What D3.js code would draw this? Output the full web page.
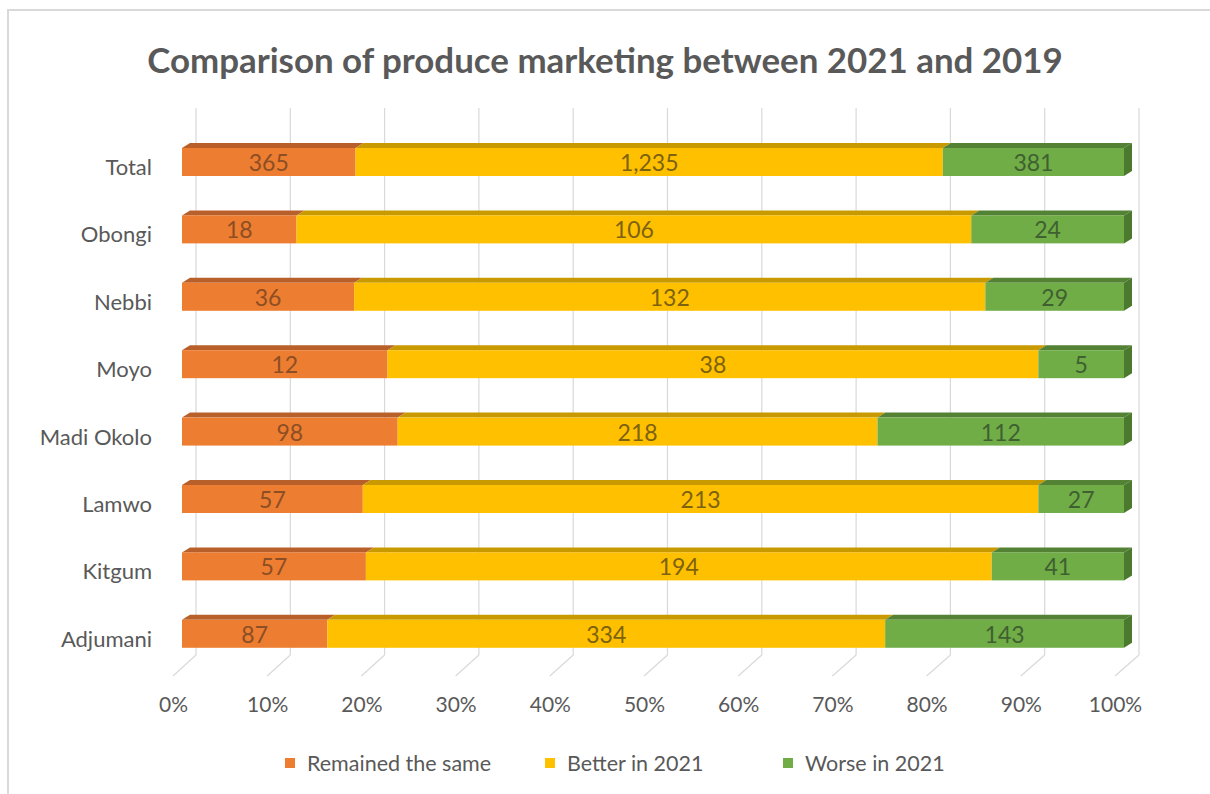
<!DOCTYPE html>
<html>
<head>
<meta charset="utf-8">
<script src="https://cdn.jsdelivr.net/npm/d3@7"></script>
<style>
  html, body { margin: 0; padding: 0; background: #fff; }
  svg { display: block; }
  text { font-family: Lato, "Open Sans", "Liberation Sans", sans-serif; }
</style>
</head>
<body>
<svg id="chart" width="1210" height="794"></svg>
<script>
// Districts, listed top to bottom as drawn
const categories = ["Total", "Obongi", "Nebbi", "Moyo", "Madi Okolo", "Lamwo", "Kitgum", "Adjumani"];
const remainedSame = [365, 18, 36, 12, 98, 57, 57, 87];
const betterIn2021 = [1235, 106, 132, 38, 218, 213, 194, 334];
const worseIn2021 = [381, 24, 29, 5, 112, 27, 41, 143];
const seriesNames = ["Remained the same", "Better in 2021", "Worse in 2021"];
const tickValues = [0, 0.1, 0.2, 0.3, 0.4, 0.5, 0.6, 0.7, 0.8, 0.9, 1.0];

const seriesFront = ["#ED7D31", "#FFC000", "#70AD47"];
const seriesTop = ["#B9602A", "#C99A00", "#548235"];
const seriesSide = ["#A4531E", "#B38A00", "#4B7A2E"];
const seriesLabel = ["#8C4E24", "#7D6210", "#3F6030"];
const textGrey = "#595959";

const svg = d3.select("#chart");

// chart frame
svg.append("rect")
  .attr("x", 8).attr("y", 10).attr("width", 1220).attr("height", 800)
  .attr("fill", "#fff").attr("stroke", "#d9d9d9").attr("stroke-width", 2);

// title, fitted to its line width
svg.append("text")
  .attr("x", 605).attr("y", 73)
  .attr("text-anchor", "middle")
  .attr("font-weight", "bold")
  .attr("font-size", 30)
  .attr("fill", textGrey)
  .text("Comparison of produce marketing between 2021 and 2019")
  .each(function () {
    const w = this.getComputedTextLength();
    d3.select(this).attr("font-size", 30 * 916 / w);
  });

// three depth planes of the 3-D plot: front floor edge, bar front, back wall
const xFloor = d3.scaleLinear().domain([0, 1]).range([173, 1115]);
const xBar = d3.scaleLinear().domain([0, 1]).range([182, 1124]);
const xWall = d3.scaleLinear().domain([0, 1]).range([196, 1139]);
const floorFrontY = 676, floorBackY = 655, wallTopY = 108;
const depthDx = 8, depthDy = -5;

const y = d3.scaleBand()
  .domain(categories)
  .range([128.3, 667.5])
  .paddingInner(0.585)
  .paddingOuter(0.2925);

// gridlines on the back wall and across the floor
const grid = svg.append("g").attr("stroke", "#d9d9d9").attr("stroke-width", 1.2).attr("fill", "none");
grid.selectAll("line.wall").data(tickValues).join("line")
  .attr("class", "wall")
  .attr("x1", d => xWall(d)).attr("x2", d => xWall(d))
  .attr("y1", wallTopY).attr("y2", floorBackY);
grid.selectAll("line.floor").data(tickValues).join("line")
  .attr("class", "floor")
  .attr("x1", d => xFloor(d)).attr("x2", d => xWall(d))
  .attr("y1", floorFrontY).attr("y2", floorBackY);

// percentage axis labels
const xAxis = d3.axisBottom(xFloor).tickValues(tickValues).tickFormat(d3.format(".0%")).tickSize(0).tickPadding(0);
const axisG = svg.append("g").attr("transform", `translate(0, ${floorFrontY + 21})`).call(xAxis);
axisG.select(".domain").remove();
axisG.selectAll("text")
  .attr("font-size", 21).attr("fill", textGrey)
  .attr("font-family", "Lato, 'Open Sans', sans-serif");

// stacked shares per row
const rows = categories.map((c, i) => {
  const vals = [remainedSame[i], betterIn2021[i], worseIn2021[i]];
  const total = d3.sum(vals);
  let acc = 0;
  const segs = vals.map((v, k) => {
    const s = { key: k, value: v, x0: acc / total, x1: (acc + v) / total };
    acc += v;
    return s;
  });
  return { cat: c, segs };
});

const bars = svg.append("g");
const h = y.bandwidth();
rows.forEach(row => {
  const g = bars.append("g");
  const yt = y(row.cat);
  row.segs.forEach(s => {
    const a = xBar(s.x0), b = xBar(s.x1);
    // top face
    g.append("polygon")
      .attr("points", [[a, yt], [b, yt], [b + depthDx, yt + depthDy], [a + depthDx, yt + depthDy]].map(p => p.join(",")).join(" "))
      .attr("fill", seriesTop[s.key]);
    // front face
    g.append("rect")
      .attr("x", a).attr("y", yt).attr("width", b - a).attr("height", h)
      .attr("fill", seriesFront[s.key]);
  });
  // right end of the bar
  const last = row.segs[row.segs.length - 1];
  const e = xBar(last.x1);
  g.append("polygon")
    .attr("points", [[e, yt], [e + depthDx, yt + depthDy], [e + depthDx, yt + h + depthDy], [e, yt + h]].map(p => p.join(",")).join(" "))
    .attr("fill", seriesSide[last.key]);
  // data labels
  row.segs.forEach(s => {
    g.append("text")
      .attr("x", (xBar(s.x0) + xBar(s.x1)) / 2)
      .attr("y", yt + h / 2 + 9)
      .attr("text-anchor", "middle")
      .attr("font-size", 23)
      .attr("fill", seriesLabel[s.key])
      .text(d3.format(",")(s.value));
  });
});

// category labels
svg.append("g").selectAll("text").data(categories).join("text")
  .attr("x", 152)
  .attr("y", d => y(d) + h / 2 + 13)
  .attr("text-anchor", "end")
  .attr("font-size", 22)
  .attr("fill", textGrey)
  .text(d => d);

// legend
const legendX = [285, 545, 783];
const legend = svg.append("g");
seriesNames.forEach((name, k) => {
  legend.append("rect")
    .attr("x", legendX[k]).attr("y", 758).attr("width", 10).attr("height", 10)
    .attr("fill", seriesFront[k]);
  legend.append("text")
    .attr("x", legendX[k] + 22).attr("y", 771)
    .attr("font-size", 21.5).attr("fill", textGrey)
    .text(name);
});
</script>
</body>
</html>
